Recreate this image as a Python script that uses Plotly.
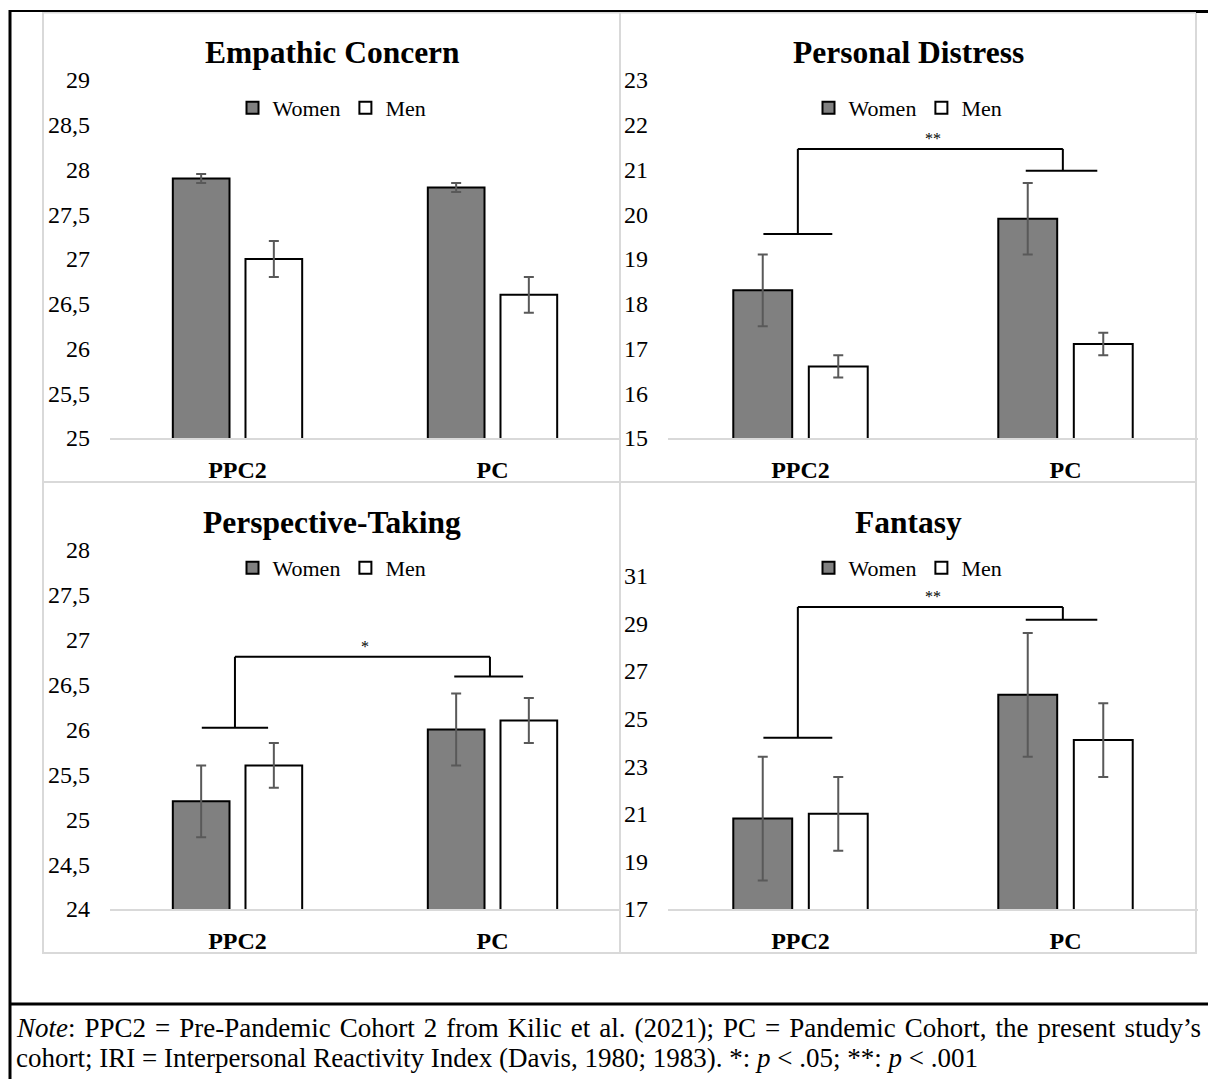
import plotly.graph_objects as go

W, H = 1208, 1079
SERIF = "Liberation Serif"

# ---------------- data ----------------
categories = ["PPC2", "PC"]
series_names = ["Women", "Men"]
panel_titles = ["Empathic Concern", "Personal Distress", "Perspective-Taking", "Fantasy"]

ec_women = [27.9, 27.8]
ec_women_err = [0.05, 0.05]
ec_men = [27.0, 26.6]
ec_men_err = [0.2, 0.2]

pd_women = [18.3, 19.9]
pd_women_err = [0.8, 0.8]
pd_men = [16.6, 17.1]
pd_men_err = [0.25, 0.25]

pt_women = [25.2, 26.0]
pt_women_err = [0.4, 0.4]
pt_men = [25.6, 26.1]
pt_men_err = [0.25, 0.25]

fa_women = [20.8, 26.0]
fa_women_err = [2.6, 2.6]
fa_men = [21.0, 24.1]
fa_men_err = [1.55, 1.55]

ec_range = [25, 29]
ec_ticks = [25, 25.5, 26, 26.5, 27, 27.5, 28, 28.5, 29]
ec_ticklabels = ["25", "25,5", "26", "26,5", "27", "27,5", "28", "28,5", "29"]

pd_range = [15, 23]
pd_ticks = [15, 16, 17, 18, 19, 20, 21, 22, 23]
pd_ticklabels = ["15", "16", "17", "18", "19", "20", "21", "22", "23"]

pt_range = [24, 28]
pt_ticks = [24, 24.5, 25, 25.5, 26, 26.5, 27, 27.5, 28]
pt_ticklabels = ["24", "24,5", "25", "25,5", "26", "26,5", "27", "27,5", "28"]

fa_range = [17, 32]
fa_ticks = [17, 19, 21, 23, 25, 27, 29, 31]
fa_ticklabels = ["17", "19", "21", "23", "25", "27", "29", "31"]

# significance brackets: [PPC2 level, top level, PC level]
pd_bracket = [19.56, 21.46, 20.97]
pd_sig = "**"
pt_bracket = [26.02, 26.81, 26.59]
pt_sig = "*"
fa_bracket = [24.2, 29.69, 29.15]
fa_sig = "**"

note_line1 = "<i>Note</i>: PPC2 = Pre-Pandemic Cohort 2 from Kilic et al. (2021); PC = Pandemic Cohort, the present study’s"
note_line2 = "cohort; IRI = Interpersonal Reactivity Index (Davis, 1980; 1983). *: <i>p</i> &lt; .05; **: <i>p</i> &lt; .001"

# ---------------- layout helpers ----------------
def fx(px):
    return px / W

def fy(py):
    return 1 - py / H

panels = [
    dict(title=panel_titles[0], w=ec_women, we=ec_women_err, m=ec_men, me=ec_men_err,
         rng=ec_range, tv=ec_ticks, tt=ec_ticklabels, box=(110, 620, 80, 438),
         cx=332, title_y=52, legend_y=108, bracket=None, sig=None),
    dict(title=panel_titles[1], w=pd_women, we=pd_women_err, m=pd_men, me=pd_men_err,
         rng=pd_range, tv=pd_ticks, tt=pd_ticklabels, box=(668, 1198, 80, 438),
         cx=908, title_y=52, legend_y=108, bracket=pd_bracket, sig=pd_sig),
    dict(title=panel_titles[2], w=pt_women, we=pt_women_err, m=pt_men, me=pt_men_err,
         rng=pt_range, tv=pt_ticks, tt=pt_ticklabels, box=(110, 620, 550, 909),
         cx=332, title_y=522, legend_y=568, bracket=pt_bracket, sig=pt_sig),
    dict(title=panel_titles[3], w=fa_women, we=fa_women_err, m=fa_men, me=fa_men_err,
         rng=fa_range, tv=fa_ticks, tt=fa_ticklabels, box=(668, 1198, 552, 909),
         cx=908, title_y=522, legend_y=568, bracket=fa_bracket, sig=fa_sig),
]

fig = go.Figure()
layout_kw = {}
shapes = []
annotations = []

for i, p in enumerate(panels):
    n = "" if i == 0 else str(i + 1)
    xa, ya = "x" + n, "y" + n
    leg = "legend" + n
    x0, x1, y0, y1 = p["box"]

    fig.add_trace(go.Bar(
        x=categories, y=p["w"], name=series_names[0],
        marker=dict(color="#808080", line=dict(color="#000000", width=2)),
        error_y=dict(type="data", array=p["we"], color="#595959", thickness=2, width=5),
        xaxis=xa, yaxis=ya, legend=leg, hoverinfo="skip",
    ))
    fig.add_trace(go.Bar(
        x=categories, y=p["m"], name=series_names[1],
        marker=dict(color="#ffffff", line=dict(color="#000000", width=2)),
        error_y=dict(type="data", array=p["me"], color="#595959", thickness=2, width=5),
        xaxis=xa, yaxis=ya, legend=leg, hoverinfo="skip",
    ))

    layout_kw["xaxis" + n] = dict(
        domain=[fx(x0), fx(x1)], anchor=ya, type="category", range=[-0.5, 1.5],
        showline=True, linecolor="#d9d9d9", linewidth=2, ticks="",
        showgrid=False, zeroline=False, fixedrange=True, automargin=False,
        tickfont=dict(family=SERIF, size=24, color="#000000", weight="bold"),
        ticklabelstandoff=9,
    )
    layout_kw["yaxis" + n] = dict(
        domain=[fy(y1), fy(y0)], anchor=xa, range=p["rng"],
        tickvals=p["tv"], ticktext=p["tt"], showgrid=False, zeroline=False,
        showline=False, ticks="", fixedrange=True, automargin=False,
        tickfont=dict(family=SERIF, size=24, color="#000000"),
        ticklabelstandoff=19,
    )
    layout_kw[leg] = dict(
        x=fx(p["cx"]), y=fy(p["legend_y"]), xanchor="center", yanchor="middle",
        orientation="h", font=dict(family=SERIF, size=22, color="#000000"),
        bgcolor="rgba(0,0,0,0)", itemwidth=30, tracegroupgap=0, traceorder="normal",
    )

    annotations.append(dict(
        x=fx(p["cx"]), y=fy(p["title_y"]), xref="paper", yref="paper",
        text="<b>" + p["title"] + "</b>", showarrow=False,
        font=dict(family=SERIF, size=31.5, color="#000000"),
        xanchor="center", yanchor="middle",
    ))

    if p["bracket"] is not None:
        lo, top, hi = p["bracket"]
        xr, yr = xa, ya
        line = dict(color="#000000", width=2)
        shapes += [
            dict(type="line", xref=xr, yref=yr, x0=-0.14, x1=0.12, y0=lo, y1=lo, line=line),
            dict(type="line", xref=xr, yref=yr, x0=-0.01, x1=-0.01, y0=lo, y1=top, line=line),
            dict(type="line", xref=xr, yref=yr, x0=-0.01, x1=0.99, y0=top, y1=top, line=line),
            dict(type="line", xref=xr, yref=yr, x0=0.99, x1=0.99, y0=top, y1=hi, line=line),
            dict(type="line", xref=xr, yref=yr, x0=0.85, x1=1.12, y0=hi, y1=hi, line=line),
        ]
        annotations.append(dict(
            x=0.5, y=top, xref=xr, yref=yr, text=p["sig"], showarrow=False,
            font=dict(family=SERIF, size=16, color="#000000"),
            xanchor="center", yanchor="bottom", yshift=0,
        ))

# light grey chart-area borders
grey = dict(color="#d9d9d9", width=2)
shapes += [
    dict(type="rect", xref="paper", yref="paper", x0=fx(43), x1=fx(1196), y0=fy(953), y1=fy(12.5), line=grey),
    dict(type="line", xref="paper", yref="paper", x0=fx(620), x1=fx(620), y0=fy(953), y1=fy(12.5), line=grey),
    dict(type="line", xref="paper", yref="paper", x0=fx(43), x1=fx(1196), y0=fy(482), y1=fy(482), line=grey),
]
# black outer frame
shapes += [
    dict(type="line", xref="paper", yref="paper", x0=fx(10), x1=fx(1196), y0=fy(11), y1=fy(11), line=dict(color="#000000", width=2)),
    dict(type="line", xref="paper", yref="paper", x0=fx(1196), x1=fx(1208), y0=fy(11.5), y1=fy(11.5), line=dict(color="#000000", width=3)),
    dict(type="line", xref="paper", yref="paper", x0=fx(10), x1=fx(10), y0=fy(10), y1=fy(1079), line=dict(color="#000000", width=3)),
    dict(type="line", xref="paper", yref="paper", x0=fx(10), x1=fx(1208), y0=fy(1004), y1=fy(1004), line=dict(color="#000000", width=3)),
]

# justify the first note line a little by widening its word gaps
note_line1_justified = note_line1.replace(" ", " \u200a")

annotations += [
    dict(x=fx(14), y=fy(1028), xref="paper", yref="paper", text=note_line1_justified, showarrow=False,
         font=dict(family=SERIF, size=27, color="#000000"), xanchor="left", yanchor="middle"),
    dict(x=fx(14), y=fy(1058), xref="paper", yref="paper", text=note_line2, showarrow=False,
         font=dict(family=SERIF, size=27, color="#000000"), xanchor="left", yanchor="middle"),
]

fig.update_layout(
    width=W, height=H, margin=dict(l=0, r=0, t=0, b=0, pad=0, autoexpand=False),
    paper_bgcolor="#ffffff", plot_bgcolor="#ffffff",
    barmode="group", bargap=0.43, bargroupgap=0.22,
    showlegend=True, shapes=shapes, annotations=annotations,
    **layout_kw,
)

fig.write_html(
    "out.html",
    config={"displayModeBar": False},
    post_script="document.body.style.margin='0';document.body.style.overflow='hidden';",
)
